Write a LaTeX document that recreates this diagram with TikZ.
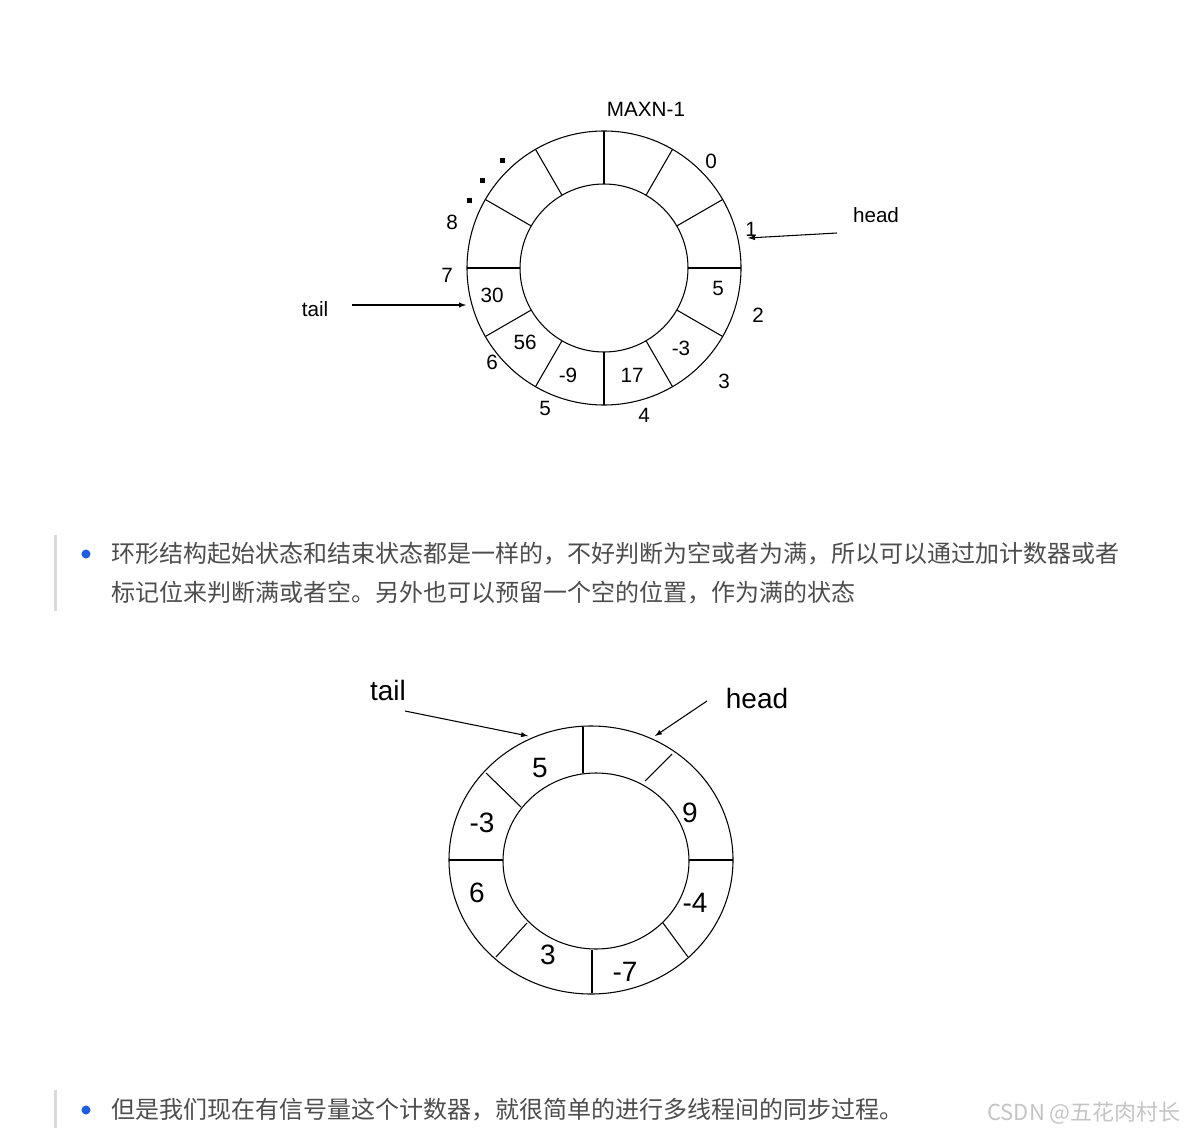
\documentclass[tikz,border=0pt]{standalone}
\usepackage{fontspec}
\setmainfont{Liberation Sans}
\newfontfamily\cjk{Noto Sans CJK SC}
\usetikzlibrary{arrows}
\usetikzlibrary{calc, math}
\definecolor{bodygray}{RGB}{77,77,77}
\definecolor{bulletblue}{RGB}{28,92,235}
\definecolor{bargray}{RGB}{218,218,218}
\definecolor{markgray}{RGB}{196,196,196}

\tikzset{
  ringline/.style={line width=0.8pt},
  ptr/.style={-latex, line width=0.8pt},
  smalllbl/.style={font=\fontsize{15.5}{18}\selectfont},
  biglbl/.style={font=\fontsize{21}{25}\selectfont},
  bodytext/.style={anchor=west, inner sep=0pt, text=bodygray, font=\cjk\fontsize{18}{22}\selectfont},
}

\begin{document}
\begin{tikzpicture}[x=0.75pt,y=-0.75pt]
\tikzmath{
\Ro=137; \Ri=84;
}
\useasboundingbox (0,0) rectangle (1185,1134);

% first ring: MAXN slots
\coordinate (C1) at (604,268);
\draw[ringline] (C1) circle (\Ro);
\draw[ringline] (C1) circle (\Ri);
\foreach \a in {0,30,...,330}
  \draw[ringline] ($(C1)+(\a:\Ri)$) -- ($(C1)+(\a:\Ro)$);

\foreach \v/\x/\y [count=\i] in {5/718/288, -3/681/348, 17/632/375, -9/568/375, 56/525/342, 30/492/295}
  \node[smalllbl] (val\i) at (\x,\y) {\v};

\foreach \v/\x/\y [count=\i] in {0/711/161, 1/751/229, 2/758/315, 3/724/381, 4/644/415, 5/545/408, 6/492/362, 7/447/275, 8/452/222}
  \node[smalllbl] (idx\i) at (\x,\y) {\v};
\node[smalllbl] (maxn) at (646,109) {MAXN-1};

\foreach \x/\y in {469/201, 482/181, 502/161}
  \fill (\x,\y) ++(-2.5,-2.5) rectangle ++(5,5);

\node[smalllbl] (tailA) at (315,309) {tail};
\coordinate (tailAfrom) at (352,305);
\coordinate (tailAto) at (466,305);
\draw[ptr] (tailAfrom) -- (tailAto);

\node[smalllbl] (headA) at (876,215) {head};
\coordinate (headAfrom) at (837,233);
\coordinate (headAto) at (748,238);
\draw[ptr] (headAfrom) -- (headAto);

% second ring: 8 slots
\coordinate (C2) at (591,860);
\coordinate (C2i) at (596,861);
\draw[ringline] (C2) ellipse [x radius=142, y radius=134];
\draw[ringline] (C2i) ellipse [x radius=93, y radius=88];
\foreach \xa/\ya/\xb/\yb in {583/727/583/773, 645/781/672/754, 689/860/733/860, 663/923/688/957,
                             592/950/592/993, 527/923/496/957, 449/860/503/860, 521/807/486/773}
  \draw[ringline] (\xa,\ya) -- (\xb,\yb);

\foreach \v/\x/\y [count=\i] in {5/540/768, 9/690/813, -4/695/903, -7/625/972, 3/548/955, 6/477/893, -3/482/823}
  \node[biglbl] (cell\i) at (\x,\y) {\v};

\node[biglbl] (tailB) at (388,690) {tail};
\coordinate (tailBfrom) at (405,711);
\coordinate (tailBto) at (528,736);
\draw[ptr] (tailBfrom) -- (tailBto);

\node[biglbl] (headB) at (757,698) {head};
\coordinate (headBfrom) at (707,701);
\coordinate (headBto) at (655,736);
\draw[ptr] (headBfrom) -- (headBto);

% text blocks
\draw[bargray, line width=2.25pt] (55,535) -- (55,611);
\fill[bulletblue] (86,554) circle (4.5);
\node[bodytext] (para1) at (111,554) {环形结构起始状态和结束状态都是一样的，不好判断为空或者为满，所以可以通过加计数器或者};
\node[bodytext] (para2) at (111,593) {标记位来判断满或者空。另外也可以预留一个空的位置，作为满的状态};

\draw[bargray, line width=2.25pt] (55,1090) -- (55,1128);
\fill[bulletblue] (86,1110) circle (4.5);
\node[bodytext] (para3) at (111,1110) {但是我们现在有信号量这个计数器，就很简单的进行多线程间的同步过程。};
\node[anchor=east, inner sep=0pt, text=markgray, font=\cjk\fontsize{16.5}{19}\selectfont] (mark) at (1181,1113) {CSDN @五花肉村长};
\end{tikzpicture}
\end{document}
